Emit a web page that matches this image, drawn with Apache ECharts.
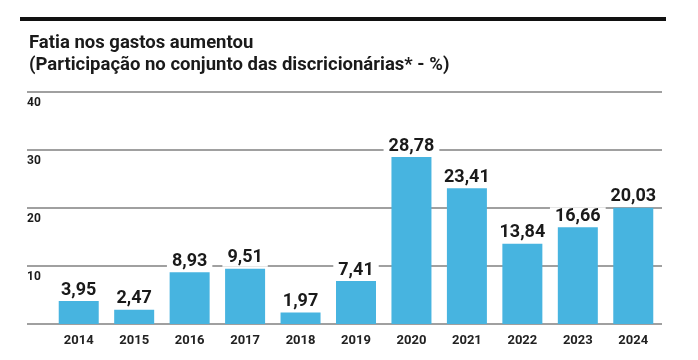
<!DOCTYPE html>
<html><head><meta charset="utf-8">
<script src="https://cdn.jsdelivr.net/npm/echarts@6/dist/echarts.min.js"></script>
<style>html,body{margin:0;padding:0;background:#fff}#c{width:698px;height:360px}</style>
</head><body><div id="c"></div>
<script>
var titleLines = ['Fatia nos gastos aumentou', '(Participação no conjunto das discricionárias* - %)'];
var years = ['2014','2015','2016','2017','2018','2019','2020','2021','2022','2023','2024'];
var values = [3.95, 2.47, 8.93, 9.51, 1.97, 7.41, 28.78, 23.41, 13.84, 16.66, 20.03];
var yTicks = [0, 10, 20, 30, 40];

var chart = echarts.init(document.getElementById('c'), null, {renderer: 'canvas'});
var fam = 'Roboto, "Noto Sans", sans-serif';
chart.setOption({
  backgroundColor: '#fff',
  animation: false,
  title: {
    text: titleLines.join('\n'), left: 24, top: 27,
    textStyle: {fontFamily: fam, fontSize: 18.5, fontWeight: 'bold', color: '#1a1a1a', lineHeight: 22}
  },
  graphic: [{type: 'rect', left: 20, top: 17, shape: {width: 646, height: 4}, style: {fill: '#111'}}],
  grid: [
    {left: 27, right: 36, top: 92, bottom: 36},
    {left: 51, right: 37, top: 92, bottom: 36}
  ],
  xAxis: [
    {gridIndex: 0, type: 'value', min: 0, max: 1, show: false},
    {gridIndex: 1, type: 'category', data: years,
     axisLine: {show: false}, axisTick: {show: false},
     axisLabel: {margin: 10, fontFamily: fam, fontSize: 13, fontWeight: 'bold', color: '#222'}}
  ],
  yAxis: [
    {gridIndex: 0, type: 'value', min: yTicks[0], max: yTicks[yTicks.length-1], interval: 10,
     axisLine: {show: false}, axisTick: {show: false},
     splitLine: {show: true, lineStyle: {color: '#808080', width: 1.5}},
     axisLabel: {inside: true, margin: 0, align: 'left', verticalAlign: 'top', padding: [5,0,0,0],
       showMinLabel: false, fontFamily: fam, fontSize: 12, fontWeight: 'bold', color: '#1a1a1a'}},
    {gridIndex: 1, type: 'value', min: 0, max: 40, show: false, splitLine: {show: false}}
  ],
  series: [{
    type: 'bar', xAxisIndex: 1, yAxisIndex: 1, data: values, barWidth: 40,
    itemStyle: {color: '#47b4e0'},
    label: {show: true, position: 'top', distance: 2,
      formatter: function(p){ return p.value.toFixed(2).replace('.', ','); },
      fontFamily: fam, fontSize: 18, fontWeight: 'bold', color: '#1a1a1a',
      backgroundColor: '#fff', padding: [0, 5, 0, 5]}
  }]
});
</script></body></html>
